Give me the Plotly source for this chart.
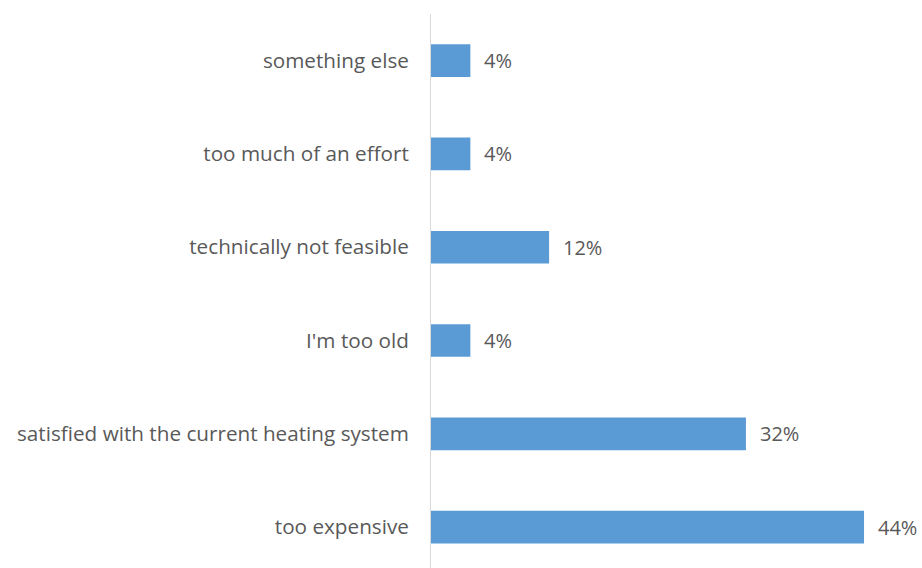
import plotly.graph_objects as go

# Reasons given, bottom to top
reasons = [
    "too expensive",
    "satisfied with the current heating system",
    "I'm too old",
    "technically not feasible",
    "too much of an effort",
    "something else",
]
shares = [44, 32, 4, 12, 4, 4]  # percent

BAR_BLUE = "#5B9BD5"
TEXT_GREY = "#595959"
FONT = "Open Sans, Noto Sans, sans-serif"
LABEL_SIZE = 20.7

fig = go.Figure(
    go.Bar(
        x=shares,
        y=reasons,
        orientation="h",
        marker=dict(color=BAR_BLUE, line=dict(width=0)),
        width=0.35,
        hoverinfo="skip",
    )
)

# value labels to the right of each bar
for r, v in zip(reasons, shares):
    fig.add_annotation(
        x=v, y=r, text=f"{v}%", showarrow=False,
        xanchor="left", yanchor="middle", xshift=12,
        font=dict(family=FONT, size=20, color=TEXT_GREY),
    )

fig.update_layout(
    width=922,
    height=568,
    margin=dict(l=431, r=0, t=14, b=0),
    paper_bgcolor="white",
    plot_bgcolor="white",
    showlegend=False,
    font=dict(family=FONT, size=LABEL_SIZE, color=TEXT_GREY),
    xaxis=dict(
        range=[0, 49.89],
        showgrid=False,
        zeroline=False,
        showticklabels=False,
        showline=False,
        fixedrange=True,
    ),
    yaxis=dict(
        type="category",
        range=[-0.438, 5.5],
        showgrid=False,
        zeroline=False,
        showline=True,
        linecolor="#D9D9D9",
        linewidth=1,
        ticks="outside",
        ticklen=17,
        tickcolor="rgba(0,0,0,0)",
        tickfont=dict(family=FONT, size=LABEL_SIZE, color=TEXT_GREY),
        fixedrange=True,
    ),
)

fig.write_html("out.html")
